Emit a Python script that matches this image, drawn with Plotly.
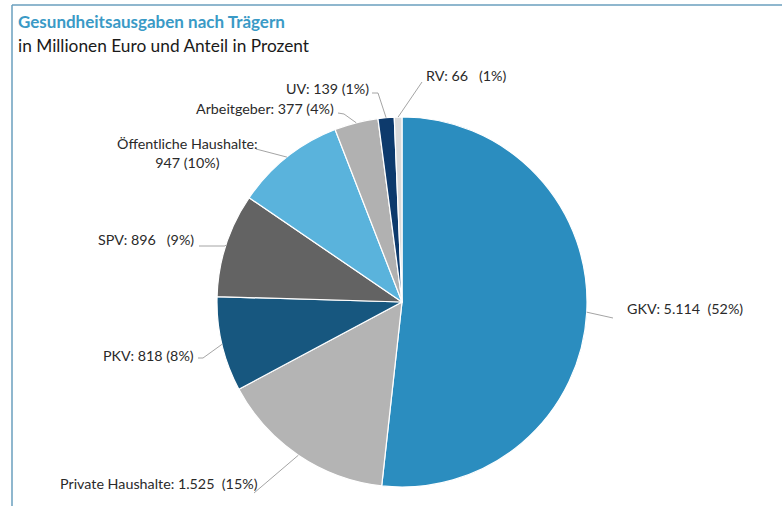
import math
import plotly.graph_objects as go

# ---- data ----
categories = ["GKV", "Private Haushalte", "PKV", "SPV", "Öffentliche Haushalte",
              "Arbeitgeber", "UV", "RV"]
values = [5114, 1525, 818, 896, 947, 377, 139, 66]
label_texts = ["GKV: 5.114  (52%)", "Private Haushalte: 1.525  (15%)", "PKV: 818 (8%)",
               "SPV: 896   (9%)", "Öffentliche Haushalte:<br>947 (10%)",
               "Arbeitgeber: 377 (4%)", "UV: 139 (1%)", "RV: 66   (1%)"]
colors = ["#2B8DBF", "#B4B4B4", "#17577F", "#636363", "#5AB3DC",
          "#B1B1B1", "#0D3A6C", "#DADADA"]

W, H = 782, 506
CX, CY, R = 402, 302, 185

def px(x):
    return x / W

def py(y):
    return 1 - y / H

# label layout: (text x, text y, xanchor, elbow point, line end near text)
label_layout = {
    "GKV": (625, 308, "left", (613, 318), (613, 318)),
    "Private Haushalte": (58, 483, "left", (254, 493), (254, 493)),
    "PKV": (196, 355, "right", (203, 358), (198, 358)),
    "SPV": (196, 240, "right", (225, 246), (199, 246)),
    "Öffentliche Haushalte": (187, 153, "center", (256, 149), (256, 149)),
    "Arbeitgeber": (336, 108, "right", (344, 114), (338, 113)),
    "UV": (371, 89, "right", (378, 93), (372, 93)),
    "RV": (424, 75, "left", (422, 82), (422, 82)),
}

FONT = "Lato, Open Sans, sans-serif"

fig = go.Figure()
fig.add_trace(go.Pie(
    labels=categories, values=values, sort=False, direction="clockwise",
    rotation=0, marker=dict(colors=colors, line=dict(color="white", width=1.2)),
    textinfo="none", hoverinfo="label+value+percent", showlegend=False,
    domain=dict(x=[px(CX - R), px(CX + R)], y=[py(CY + R), py(CY - R)]),
))

total = sum(values)
cum = 0
shapes = []
annotations = []
for cat, val, txt in zip(categories, values, label_texts):
    mid = (cum + val / 2) / total * 2 * math.pi
    cum += val
    ex = CX + R * math.sin(mid)
    ey = CY - R * math.cos(mid)
    tx, ty, anchor, elbow, lend = label_layout[cat]
    path = f"M {px(ex)} {py(ey)} L {px(elbow[0])} {py(elbow[1])} L {px(lend[0])} {py(lend[1])}"
    shapes.append(dict(type="path", xref="paper", yref="paper", path=path,
                       line=dict(color="#9A9A9A", width=0.9)))
    annotations.append(dict(x=px(tx), y=py(ty), xref="paper", yref="paper", text=txt,
                            showarrow=False, xanchor=anchor, yanchor="middle",
                            align="center",
                            font=dict(family=FONT, size=14.3, color="#2A2A2A")))

# titles
annotations.append(dict(x=px(16), y=py(22), xref="paper", yref="paper",
                        text="<b>Gesundheitsausgaben nach Trägern</b>", showarrow=False,
                        xanchor="left", yanchor="middle",
                        font=dict(family=FONT, size=17, color="#3A9AC6")))
annotations.append(dict(x=px(16), y=py(45), xref="paper", yref="paper",
                        text="in Millionen Euro und Anteil in Prozent", showarrow=False,
                        xanchor="left", yanchor="middle",
                        font=dict(family=FONT, size=17.3, color="#1A1A1A")))

# frame
shapes.append(dict(type="line", xref="paper", yref="paper", x0=px(12), x1=px(12),
                   y0=0, y1=py(5), line=dict(color="#6A9FBE", width=1.5)))
shapes.append(dict(type="line", xref="paper", yref="paper", x0=px(12), x1=1,
                   y0=py(5), y1=py(5), line=dict(color="#6A9FBE", width=1.5)))

fig.update_layout(width=W, height=H, margin=dict(l=0, r=0, t=0, b=0),
                  paper_bgcolor="white", plot_bgcolor="white",
                  shapes=shapes, annotations=annotations)
fig.write_html("out.html", config={"displayModeBar": False},
               post_script="document.body.style.margin='0';document.body.style.overflow='hidden';")
